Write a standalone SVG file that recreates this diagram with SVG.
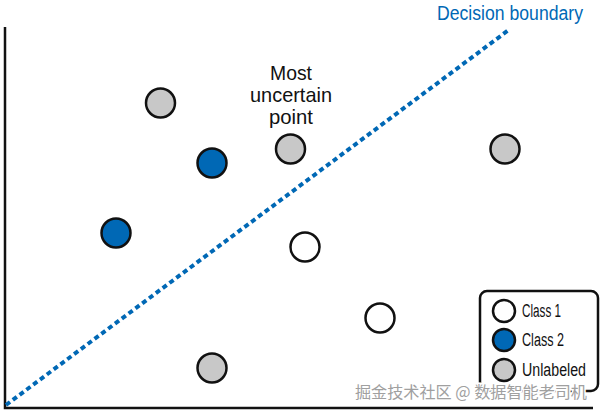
<svg xmlns="http://www.w3.org/2000/svg" width="600" height="413" viewBox="0 0 600 413">
<style>
.pt{stroke:#111;stroke-width:2.5}
.c1{fill:#fff}
.c2{fill:#0068b5}
.un{fill:#c8c8c8}
.lbl{font-family:"Liberation Sans",Arial,sans-serif;fill:#111}
.wm{font-family:"Noto Sans CJK SC",sans-serif;font-size:16px;fill:#a0a0a0;stroke:#fff;stroke-width:3;paint-order:stroke}
</style>
<rect width="600" height="413" fill="#fff"/>
<g id="connectors">
<path id="axes" d="M5,27 V408 H593" fill="none" stroke="#111" stroke-width="2.5"/>
<line id="boundary" x1="6" y1="405" x2="510" y2="29" stroke="#0068b5" stroke-width="4" stroke-dasharray="5 3.5"/>
</g>
<g id="boundary-label"><text class="lbl" x="437" y="20" font-size="20" fill="#0068b5" style="fill:#0068b5" textLength="146" lengthAdjust="spacingAndGlyphs">Decision boundary</text></g>
<g id="uncertain-label" class="lbl" font-size="21" text-anchor="middle">
<text x="291" y="80" textLength="42" lengthAdjust="spacingAndGlyphs">Most</text>
<text x="291" y="102" textLength="82" lengthAdjust="spacingAndGlyphs">uncertain</text>
<text x="291" y="124" textLength="44" lengthAdjust="spacingAndGlyphs">point</text>
</g>
<g id="p1"><circle class="pt un" cx="160.5" cy="103" r="14.5"/></g>
<g id="p2"><circle class="pt c2" cx="212" cy="163" r="14.5"/></g>
<g id="p3"><circle class="pt un" cx="290.5" cy="149" r="14.5"/></g>
<g id="p4"><circle class="pt un" cx="505" cy="149" r="14.5"/></g>
<g id="p5"><circle class="pt c2" cx="116" cy="233" r="14.5"/></g>
<g id="p6"><circle class="pt c1" cx="305" cy="247" r="14.5"/></g>
<g id="p7"><circle class="pt c1" cx="380" cy="318" r="14.5"/></g>
<g id="p8"><circle class="pt un" cx="212" cy="368" r="14.5"/></g>
<g id="legend">
<rect x="480" y="291" width="118" height="100" rx="7" fill="#fff" stroke="#111" stroke-width="2.5"/>
<circle class="pt c1" cx="504" cy="311" r="11"/>
<circle class="pt c2" cx="504" cy="340" r="11"/>
<circle class="pt un" cx="504" cy="370" r="11"/>
<text class="lbl" x="522" y="317" font-size="18" textLength="39" lengthAdjust="spacingAndGlyphs">Class 1</text>
<text class="lbl" x="522" y="346" font-size="18" textLength="42" lengthAdjust="spacingAndGlyphs">Class 2</text>
<text class="lbl" x="522" y="376" font-size="18" textLength="64" lengthAdjust="spacingAndGlyphs">Unlabeled</text>
</g>
<g id="watermark"><text class="wm" x="355" y="398" textLength="232" lengthAdjust="spacingAndGlyphs">掘金技术社区 @ 数据智能老司机</text></g>
</svg>
